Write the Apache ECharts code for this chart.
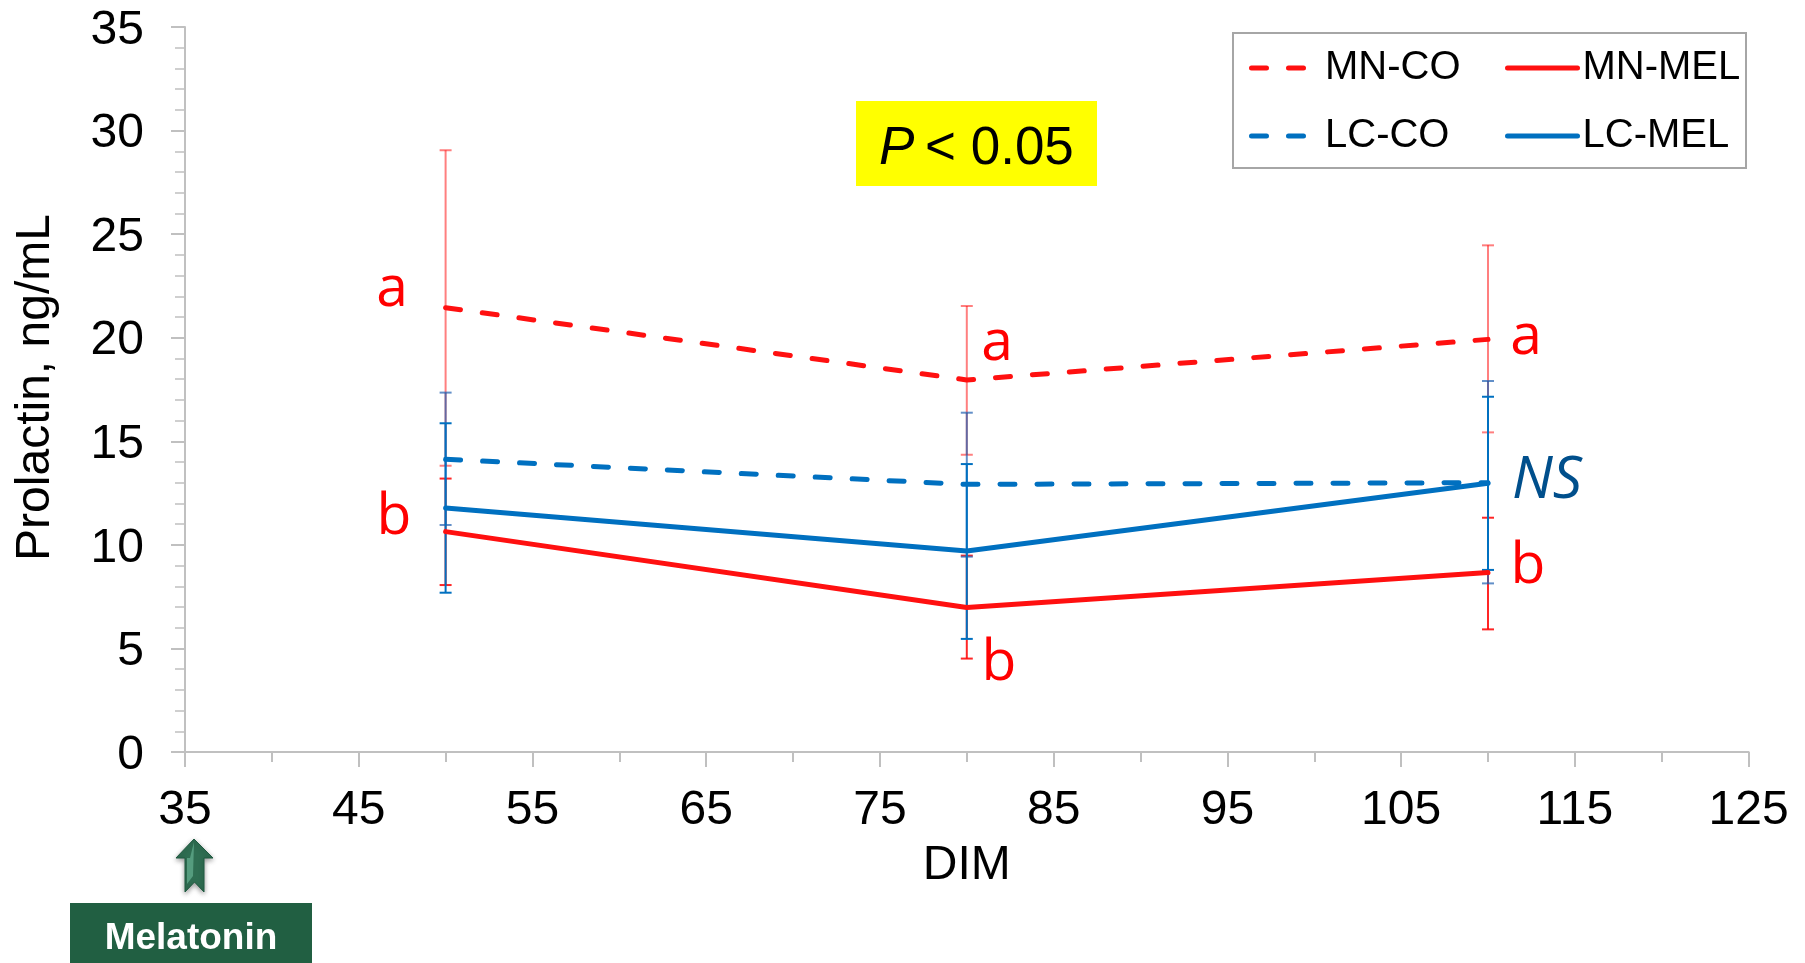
<!DOCTYPE html>
<html><head><meta charset="utf-8">
<style>html,body{margin:0;padding:0;background:#fff}#c{width:1805px;height:963px}</style>
<script src="https://cdn.jsdelivr.net/npm/echarts@6/dist/echarts.min.js"></script>
</head><body><div id="c"></div>
<script>
const days = [50, 80, 110];
const mnCo = [21.45, 17.96, 19.92];
const mnCoHigh = [29.05, 21.53, 24.46];
const mnCoLow = [13.82, 14.35, 15.43];
const mnMel = [10.64, 6.98, 8.66];
const mnMelHigh = [13.2, 9.48, 11.31];
const mnMelLow = [8.06, 4.51, 5.92];
const lcCo = [14.13, 12.92, 13.0];
const lcCoHigh = [17.35, 16.38, 17.91];
const lcCoLow = [10.96, 9.43, 8.14];
const lcMel = [11.78, 9.70, 12.97];
const lcMelHigh = [15.87, 13.9, 17.15];
const lcMelLow = [7.69, 5.46, 8.79];
const RED = '#ff1010', BLUE = '#0070c0', AXIS = '#c0c0c0';
const FONT = '"Liberation Sans", Arial, sans-serif';
const ANNOT = '"Open Sans", "Noto Sans", sans-serif';

function pairs(v){ return days.map((d,i)=>[d, v[i]]); }
function lineSeries(name, v, color, dashed){
  return {name, type:'line', data:pairs(v), symbol:'none', z:5, animation:false, silent:true,
    lineStyle:{color, width:5, cap:'round', join:'round', type: dashed ? [15,22] : 'solid'},
    itemStyle:{color}};
}
function errorSeries(lo, hi, color, opacity, z){
  return {type:'custom', z, silent:true, animation:false, legendHoverLink:false,
    data: days.map((d,i)=>[d, lo[i], hi[i]]), encode:{x:0,y:[1,2]},
    renderItem(p, api){
      const a = api.coord([api.value(0), api.value(1)]);
      const b = api.coord([api.value(0), api.value(2)]);
      const s = {stroke:color, lineWidth:2, opacity};
      const w = 6;
      return {type:'group', children:[
        {type:'line', shape:{x1:a[0],y1:a[1],x2:b[0],y2:b[1]}, style:s},
        {type:'line', shape:{x1:a[0]-w,y1:a[1],x2:a[0]+w,y2:a[1]}, style:s},
        {type:'line', shape:{x1:b[0]-w,y1:b[1],x2:b[0]+w,y2:b[1]}, style:s}
      ]};
    }};
}
function note(text, x, y, fill, extra){
  return {type:'text', z:20, silent:true, style:Object.assign({x, y, text, fill,
    font:'57px '+ANNOT, textAlign:'center', textVerticalAlign:'middle'}, extra||{})};
}
const chart = echarts.init(document.getElementById('c'), null, {renderer:'canvas'});
function legendBase(pad){ return {orient:'vertical', itemHeight:10, itemGap:24,
  itemStyle:{opacity:0},
  lineStyle:{width:5, cap:'round'},
  textStyle:{fontFamily:FONT, fontSize:40, color:'#000', padding:[4,0,0,pad], height:40, lineHeight:40},
  selectedMode:false, padding:0}; }
chart.setOption({
  animation:false,
  backgroundColor:'#fff',
  grid:{left:185, top:27, width:1563.6, height:725, containLabel:false},
  xAxis:{type:'value', min:35, max:125, interval:10, name:'DIM', nameLocation:'middle', nameGap:90,
    nameTextStyle:{fontFamily:FONT, fontSize:48, color:'#000'},
    axisLine:{onZero:false, lineStyle:{color:AXIS, width:2}},
    axisTick:{length:15, lineStyle:{color:AXIS, width:2}},
    minorTick:{show:true, splitNumber:2, length:10, lineStyle:{color:AXIS, width:2}},
    splitLine:{show:false},
    axisLabel:{fontFamily:FONT, fontSize:48, color:'#000', margin:35, hideOverlap:false}},
  yAxis:{type:'value', min:0, max:35, interval:5, name:'Prolactin, ng/mL', nameLocation:'middle', nameGap:125,
    nameTextStyle:{fontFamily:FONT, fontSize:48, color:'#000', padding:[0,0,0,4]},
    axisLine:{onZero:false, lineStyle:{color:AXIS, width:2}},
    axisTick:{length:14, lineStyle:{color:AXIS, width:2}},
    minorTick:{show:true, splitNumber:5, length:10, lineStyle:{color:AXIS, width:1.5}},
    splitLine:{show:false},
    axisLabel:{fontFamily:FONT, fontSize:48, color:'#000', margin:41, verticalAlign:'top', lineHeight:7}},
  legend:[
    Object.assign(legendBase(10.5), {left:1249, top:46, itemWidth:58, data:['MN-CO','LC-CO']}),
    Object.assign(legendBase(0), {left:1505, top:46, itemWidth:70, data:['MN-MEL','LC-MEL']})
  ],
  series:[
    errorSeries(mnCoLow, mnCoHigh, '#ff0000', 0.5, 2),
    errorSeries(mnMelLow, mnMelHigh, '#ff0000', 0.85, 2),
    errorSeries(lcCoLow, lcCoHigh, '#1f5fb0', 0.7, 3),
    errorSeries(lcMelLow, lcMelHigh, BLUE, 1, 3),
    lineSeries('MN-CO', mnCo, RED, true),
    lineSeries('MN-MEL', mnMel, RED, false),
    lineSeries('LC-CO', lcCo, BLUE, true),
    lineSeries('LC-MEL', lcMel, BLUE, false)
  ],
  graphic:[
    {type:'rect', z:-1, silent:true, shape:{x:1233,y:33,width:513,height:135},
      style:{fill:'#fff', stroke:'#a6a6a6', lineWidth:2}},
    {type:'rect', z:1, silent:true, shape:{x:856,y:101,width:241,height:85}, style:{fill:'#ffff00'}},
    {type:'text', z:20, silent:true, style:{x:879,y:149,text:'P',fill:'#000',font:'italic 53px '+FONT,textVerticalAlign:'middle'}},
    {type:'text', z:20, silent:true, style:{x:925,y:149,text:'< 0.05',fill:'#000',font:'53px '+FONT,textVerticalAlign:'middle'}},
    note('a', 392, 290, '#ff0000'),
    note('b', 394, 518, '#ff0000'),
    note('a', 997, 344, '#ff0000'),
    note('b', 999, 664, '#ff0000'),
    note('a', 1526, 338, '#ff0000'),
    note('b', 1528, 567, '#ff0000'),
    note('NS', 1547, 481, '#004f8c', {font:'italic 58px '+ANNOT}),
    {type:'polygon', z:12, silent:true, shape:{points:[[194,839],[213,858],[204,858],[204,892],[194.5,882],[185,892],[185,858],[176,858]]},
      style:{fill:'#2f6e52', stroke:'#1f5a40', lineWidth:1, shadowBlur:5, shadowColor:'rgba(0,0,0,0.4)', shadowOffsetY:2}},
    {type:'polygon', z:13, silent:true, shape:{points:[[194,842],[190,858],[187,858],[187,884],[193,876]]}, style:{fill:'#559c7e'}},
    {type:'rect', z:10, silent:true, shape:{x:70,y:903,width:242,height:60}, style:{fill:'#215f42'}},
    {type:'text', z:11, silent:true, style:{x:191,y:939,text:'Melatonin',fill:'#fff',font:'bold 37px '+FONT,textAlign:'center',textVerticalAlign:'middle'}}
  ]
});
</script></body></html>
